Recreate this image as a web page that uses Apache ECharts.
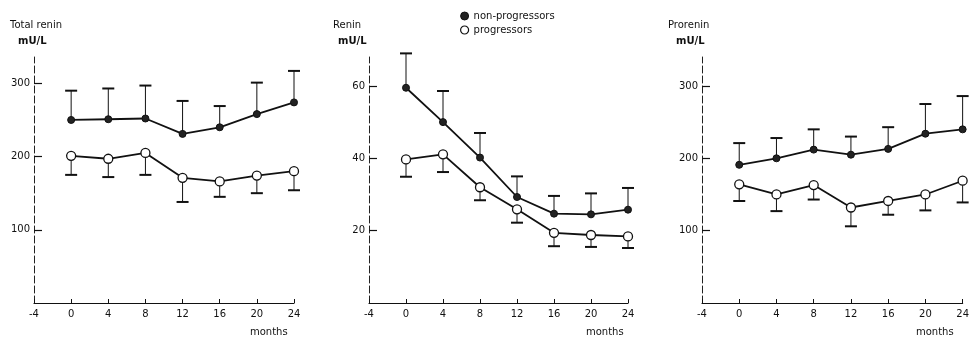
<!DOCTYPE html>
<html><head><meta charset="utf-8">
<script src="https://cdn.jsdelivr.net/npm/echarts@6/dist/echarts.min.js"></script>
<style>html,body{margin:0;padding:0;background:#fff}#c{width:972px;height:339px}</style>
</head><body><div id="c"></div>
<script>
const months = [0, 4, 8, 12, 16, 20, 24];
const xTicks = [-4, 0, 4, 8, 12, 16, 20, 24];

const panelTitles = ['Total renin', 'Renin', 'Prorenin'];
const unitLabel = 'mU/L';
const xAxisName = 'months';
const seriesNames = ['non-progressors', 'progressors'];

const totalNon = [250, 251, 252, 231, 240, 258, 274];
const totalNonHigh = [290, 293, 297, 276, 269, 301, 317];
const totalProg = [201, 197, 205, 171, 166, 174, 180];
const totalProgLow = [175, 172, 175, 138, 145, 150, 154];

const reninNon = [59.5, 50, 40.2, 29.3, 24.7, 24.5, 25.8];
const reninNonHigh = [69, 58.6, 47, 35, 29.6, 30.3, 31.8];
const reninProg = [39.7, 41.1, 32, 25.9, 19.4, 18.8, 18.4];
const reninProgLow = [34.9, 36.2, 28.4, 22.2, 15.7, 15.5, 15.2];

const proNon = [191, 200, 212, 205, 213, 234, 240];
const proNonHigh = [221, 228, 240, 230, 243, 275, 286];
const proProg = [164, 150, 163, 132, 141, 150, 169];
const proProgLow = [141, 127, 143, 106, 122, 128, 139];

const yTicks = [[100, 200, 300], [20, 40, 60], [100, 200, 300]];
const yMax = [336, 68, 340];

const panels = [
  {non: totalNon, nonEnd: totalNonHigh, prog: totalProg, progEnd: totalProgLow},
  {non: reninNon, nonEnd: reninNonHigh, prog: reninProg, progEnd: reninProgLow},
  {non: proNon, nonEnd: proNonHigh, prog: proProg, progEnd: proProgLow}
];

const FONT = 'DejaVu Sans';
const grids = [
  {left: 34, top: 57, width: 260, height: 246},
  {left: 369, top: 57, width: 259, height: 246},
  {left: 702, top: 57, width: 262, height: 246}
];

function errRender(params, api) {
  const x = api.value(0), from = api.value(1), to = api.value(2);
  const p1 = api.coord([x, from]);
  const p2 = api.coord([x, to]);
  return {
    type: 'group',
    children: [
      {type: 'line', shape: {x1: p1[0], y1: p1[1], x2: p2[0], y2: p2[1]}, style: {stroke: '#111', lineWidth: 1}},
      {type: 'line', shape: {x1: p2[0] - 6, y1: p2[1], x2: p2[0] + 6, y2: p2[1]}, style: {stroke: '#111', lineWidth: 2}}
    ]
  };
}

const xAxes = [], yAxes = [], series = [], graphics = [];
panels.forEach((p, i) => {
  xAxes.push({
    type: 'value', gridIndex: i, min: -4, max: 24, interval: 4,
    axisLine: {show: true, onZero: false, lineStyle: {color: '#111', width: 1.2}},
    axisTick: {show: true, inside: true, length: 4, lineStyle: {color: '#111'}},
    axisLabel: {show: true, color: '#111', fontFamily: FONT, fontSize: 10, margin: 6},
    splitLine: {show: false}
  });
  yAxes.push({
    type: 'value', gridIndex: i, min: 0, max: yMax[i],
    axisLine: {show: true, onZero: false, lineStyle: {color: '#222', width: 1, type: [7, 3]}},
    axisTick: {show: true, inside: true, length: 8, customValues: yTicks[i], lineStyle: {color: '#111', width: 1.2}},
    axisLabel: {show: true, customValues: yTicks[i], color: '#111', fontFamily: FONT, fontSize: 10, margin: 4},
    splitLine: {show: false}
  });
  series.push({
    type: 'custom', xAxisIndex: i, yAxisIndex: i, renderItem: errRender, z: 1, silent: true,
    data: months.map((m, k) => [m, p.non[k], p.nonEnd[k]])
  });
  series.push({
    type: 'custom', xAxisIndex: i, yAxisIndex: i, renderItem: errRender, z: 1, silent: true,
    data: months.map((m, k) => [m, p.prog[k], p.progEnd[k]])
  });
  series.push({
    name: seriesNames[0], type: 'line', xAxisIndex: i, yAxisIndex: i, z: 3,
    data: months.map((m, k) => [m, p.non[k]]),
    symbol: 'circle', symbolSize: 7,
    lineStyle: {color: '#111', width: 1.8},
    itemStyle: {color: '#222', borderColor: '#111', borderWidth: 1}
  });
  series.push({
    name: seriesNames[1], type: 'line', xAxisIndex: i, yAxisIndex: i, z: 3,
    data: months.map((m, k) => [m, p.prog[k]]),
    symbol: 'circle', symbolSize: 9, showAllSymbol: true,
    lineStyle: {color: '#111', width: 1.8},
    itemStyle: {color: '#fff', borderColor: '#111', borderWidth: 1.3}
  });
});

const titlePos = [[10, 20], [333, 20], [668, 20]];
const unitPos = [[18, 36], [338, 36], [676, 36]];
const monthsPos = [[250, 327], [586, 327], [916, 327]];
panelTitles.forEach((t, i) => {
  graphics.push({type: 'text', left: titlePos[i][0], top: titlePos[i][1],
    style: {text: t, font: '10px "' + FONT + '"', fill: '#111'}});
  graphics.push({type: 'text', left: unitPos[i][0], top: unitPos[i][1],
    style: {text: unitLabel, font: 'bold 10px "' + FONT + '"', fill: '#111'}});
  graphics.push({type: 'text', left: monthsPos[i][0], top: monthsPos[i][1],
    style: {text: xAxisName, font: '10px "' + FONT + '"', fill: '#111'}});
});

const chart = echarts.init(document.getElementById('c'), null, {renderer: 'canvas'});
chart.setOption({
  animation: false,
  backgroundColor: '#fff',
  grid: grids,
  xAxis: xAxes,
  yAxis: yAxes,
  legend: {
    left: 455, top: 6, orient: 'vertical', itemGap: 4, itemWidth: 8, itemHeight: 8,
    icon: 'circle',
    textStyle: {fontFamily: FONT, fontSize: 10, color: '#111'},
    data: [
      {name: seriesNames[0], itemStyle: {color: '#222', borderColor: '#111', borderWidth: 1}},
      {name: seriesNames[1], itemStyle: {color: '#fff', borderColor: '#111', borderWidth: 1.2}}
    ]
  },
  graphic: graphics,
  series: series
});
</script></body></html>
